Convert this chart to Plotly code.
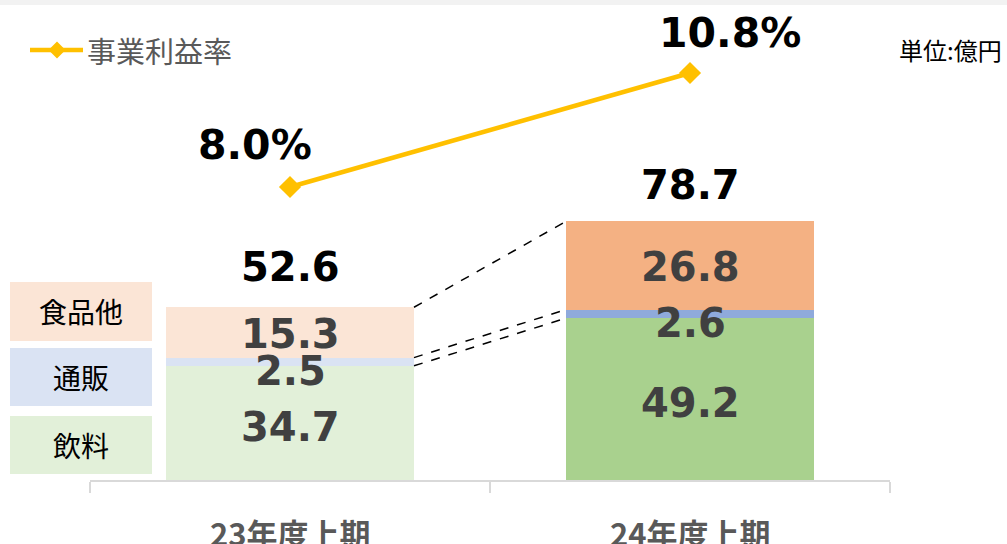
import plotly.graph_objects as go

categories = ["23年度上期", "24年度上期"]
segments = ["飲料", "通販", "食品他"]
beverage = [34.7, 49.2]
mailorder = [2.5, 2.6]
food_other = [15.3, 26.8]
totals = [52.6, 78.7]
margin_rate = [8.0, 10.8]
rate_labels = ["8.0%", "10.8%"]

series = [beverage, mailorder, food_other]
light = ["#e2f0d9", "#dae3f3", "#fbe5d6"]
dark = ["#a9d18e", "#8faadc", "#f4b183"]
seg_yshift = [-4, -9, -2]

W, H = 1007, 544
L, R, T, B = 90, 117, 5, 64
PW, PH = W - L - R, H - T - B
BAR_W = 0.62

def px(x):
    return (x - L) / PW

def py(y):
    return (H - B - y) / PH

xs = list(range(len(categories)))
fig = go.Figure()

for i, (name, vals) in enumerate(zip(segments, series)):
    fig.add_trace(go.Bar(
        x=xs, y=vals, name=name, width=BAR_W,
        marker=dict(color=[light[i], dark[i]], line=dict(width=0)),
        showlegend=False, hoverinfo="skip"))

# connector dashed lines
cum = [0.0, 0.0]
levels = []
for vals in series:
    cum = [c + v for c, v in zip(cum, vals)]
    levels.append(list(cum))
for lvl in levels:
    fig.add_trace(go.Scatter(
        x=[xs[0] + BAR_W / 2, xs[1] - BAR_W / 2], y=lvl, mode="lines",
        line=dict(color="black", width=1.5, dash="dash"),
        showlegend=False, hoverinfo="skip"))

fig.add_trace(go.Scatter(
    x=xs, y=margin_rate, yaxis="y2", mode="lines+markers", name="事業利益率",
    line=dict(color="#ffc000", width=4.5),
    marker=dict(symbol="diamond", size=17, color="#ffc000"),
    showlegend=False, hoverinfo="skip"))

annotations = []
num_font = dict(family="DejaVu Sans", size=40, color="#404040")
base = [0.0, 0.0]
for i, vals in enumerate(series):
    for j, v in enumerate(vals):
        annotations.append(dict(
            x=xs[j], y=base[j] + v / 2, xref="x", yref="y", text=f"<b>{v:.1f}</b>",
            showarrow=False, font=num_font, yanchor="middle", yshift=seg_yshift[i]))
    base = [b + v for b, v in zip(base, vals)]

for j, t in enumerate(totals):
    annotations.append(dict(
        x=xs[j], y=t, xref="x", yref="y", text=f"<b>{t:.1f}</b>", showarrow=False,
        font=dict(family="DejaVu Sans", size=40, color="black"),
        yanchor="middle", yshift=40 if j == 0 else 36))

rate_shift = [(-35, 42), (40, 40)]
for j, (v, lab) in enumerate(zip(margin_rate, rate_labels)):
    annotations.append(dict(
        x=xs[j], y=v, xref="x", yref="y2", text=f"<b>{lab}</b>", showarrow=False,
        font=dict(family="DejaVu Sans", size=41, color="black"),
        yanchor="middle", xshift=rate_shift[j][0], yshift=rate_shift[j][1]))

for j, c in enumerate(categories):
    annotations.append(dict(
        x=xs[j], y=0, xref="x", yref="paper", text=f"<b>{c}</b>", showarrow=False,
        font=dict(family="Noto Sans CJK JP", size=31, color="#595959"),
        yanchor="top", xanchor="center", yshift=-28))

shapes = []
# top gray band
shapes.append(dict(type="rect", xref="paper", yref="paper", x0=px(0), x1=px(W),
                   y0=py(5), y1=py(0), fillcolor="#f2f2f2", line=dict(width=0), layer="below"))
# category boxes at left
boxes = [(282, 341), (348, 406), (416, 474)]
box_labels = ["食品他", "通販", "飲料"]
box_colors = [light[2], light[1], light[0]]
for (y0, y1), lab, col in zip(boxes, box_labels, box_colors):
    shapes.append(dict(type="rect", xref="paper", yref="paper", x0=px(10), x1=px(152),
                       y0=py(y1), y1=py(y0), fillcolor=col, line=dict(width=0)))
    annotations.append(dict(x=px(81), y=py((y0 + y1) / 2), xref="paper", yref="paper",
                            text=lab, showarrow=False, xanchor="center", yanchor="middle",
                            font=dict(family="Noto Sans CJK JP", size=28, color="black")))

# custom legend
shapes.append(dict(type="line", xref="paper", yref="paper", x0=px(30), x1=px(83),
                   y0=py(50), y1=py(50), line=dict(color="#ffc000", width=4.5)))
d = 8.5
shapes.append(dict(type="path", xref="paper", yref="paper",
                   path=f"M {px(57 - d)} {py(50)} L {px(57)} {py(50 - d)} L {px(57 + d)} {py(50)} L {px(57)} {py(50 + d)} Z",
                   fillcolor="#ffc000", line=dict(width=0)))
annotations.append(dict(x=px(85), y=py(50), xref="paper", yref="paper", text="事業利益率",
                        showarrow=False, xanchor="left", yanchor="middle",
                        font=dict(family="Noto Sans CJK JP", size=29, color="#595959")))
annotations.append(dict(x=px(1004), y=py(50), xref="paper", yref="paper", text="単位:億円",
                        showarrow=False, xanchor="right", yanchor="middle",
                        font=dict(family="Noto Sans CJK JP", size=24, color="black")))

fig.update_layout(
    width=W, height=H, margin=dict(l=L, r=R, t=T, b=B),
    paper_bgcolor="white", plot_bgcolor="white", barmode="stack",
    xaxis=dict(range=[-0.5, 1.5], showgrid=False, zeroline=False, showline=True,
               linecolor="#d9d9d9", linewidth=2, ticks="outside", tickvals=[-0.5, 0.5, 1.5],
               ticktext=["", "", ""], ticklen=11, tickwidth=2, tickcolor="#d9d9d9"),
    yaxis=dict(range=[0, PH / 3.29], visible=False),
    yaxis2=dict(range=[0.803, 12.47], overlaying="y", visible=False),
    shapes=shapes, annotations=annotations, showlegend=False)

fig.write_html("out.html", config={"displayModeBar": False},
               post_script="document.body.style.margin='0';document.body.style.overflow='hidden';")
